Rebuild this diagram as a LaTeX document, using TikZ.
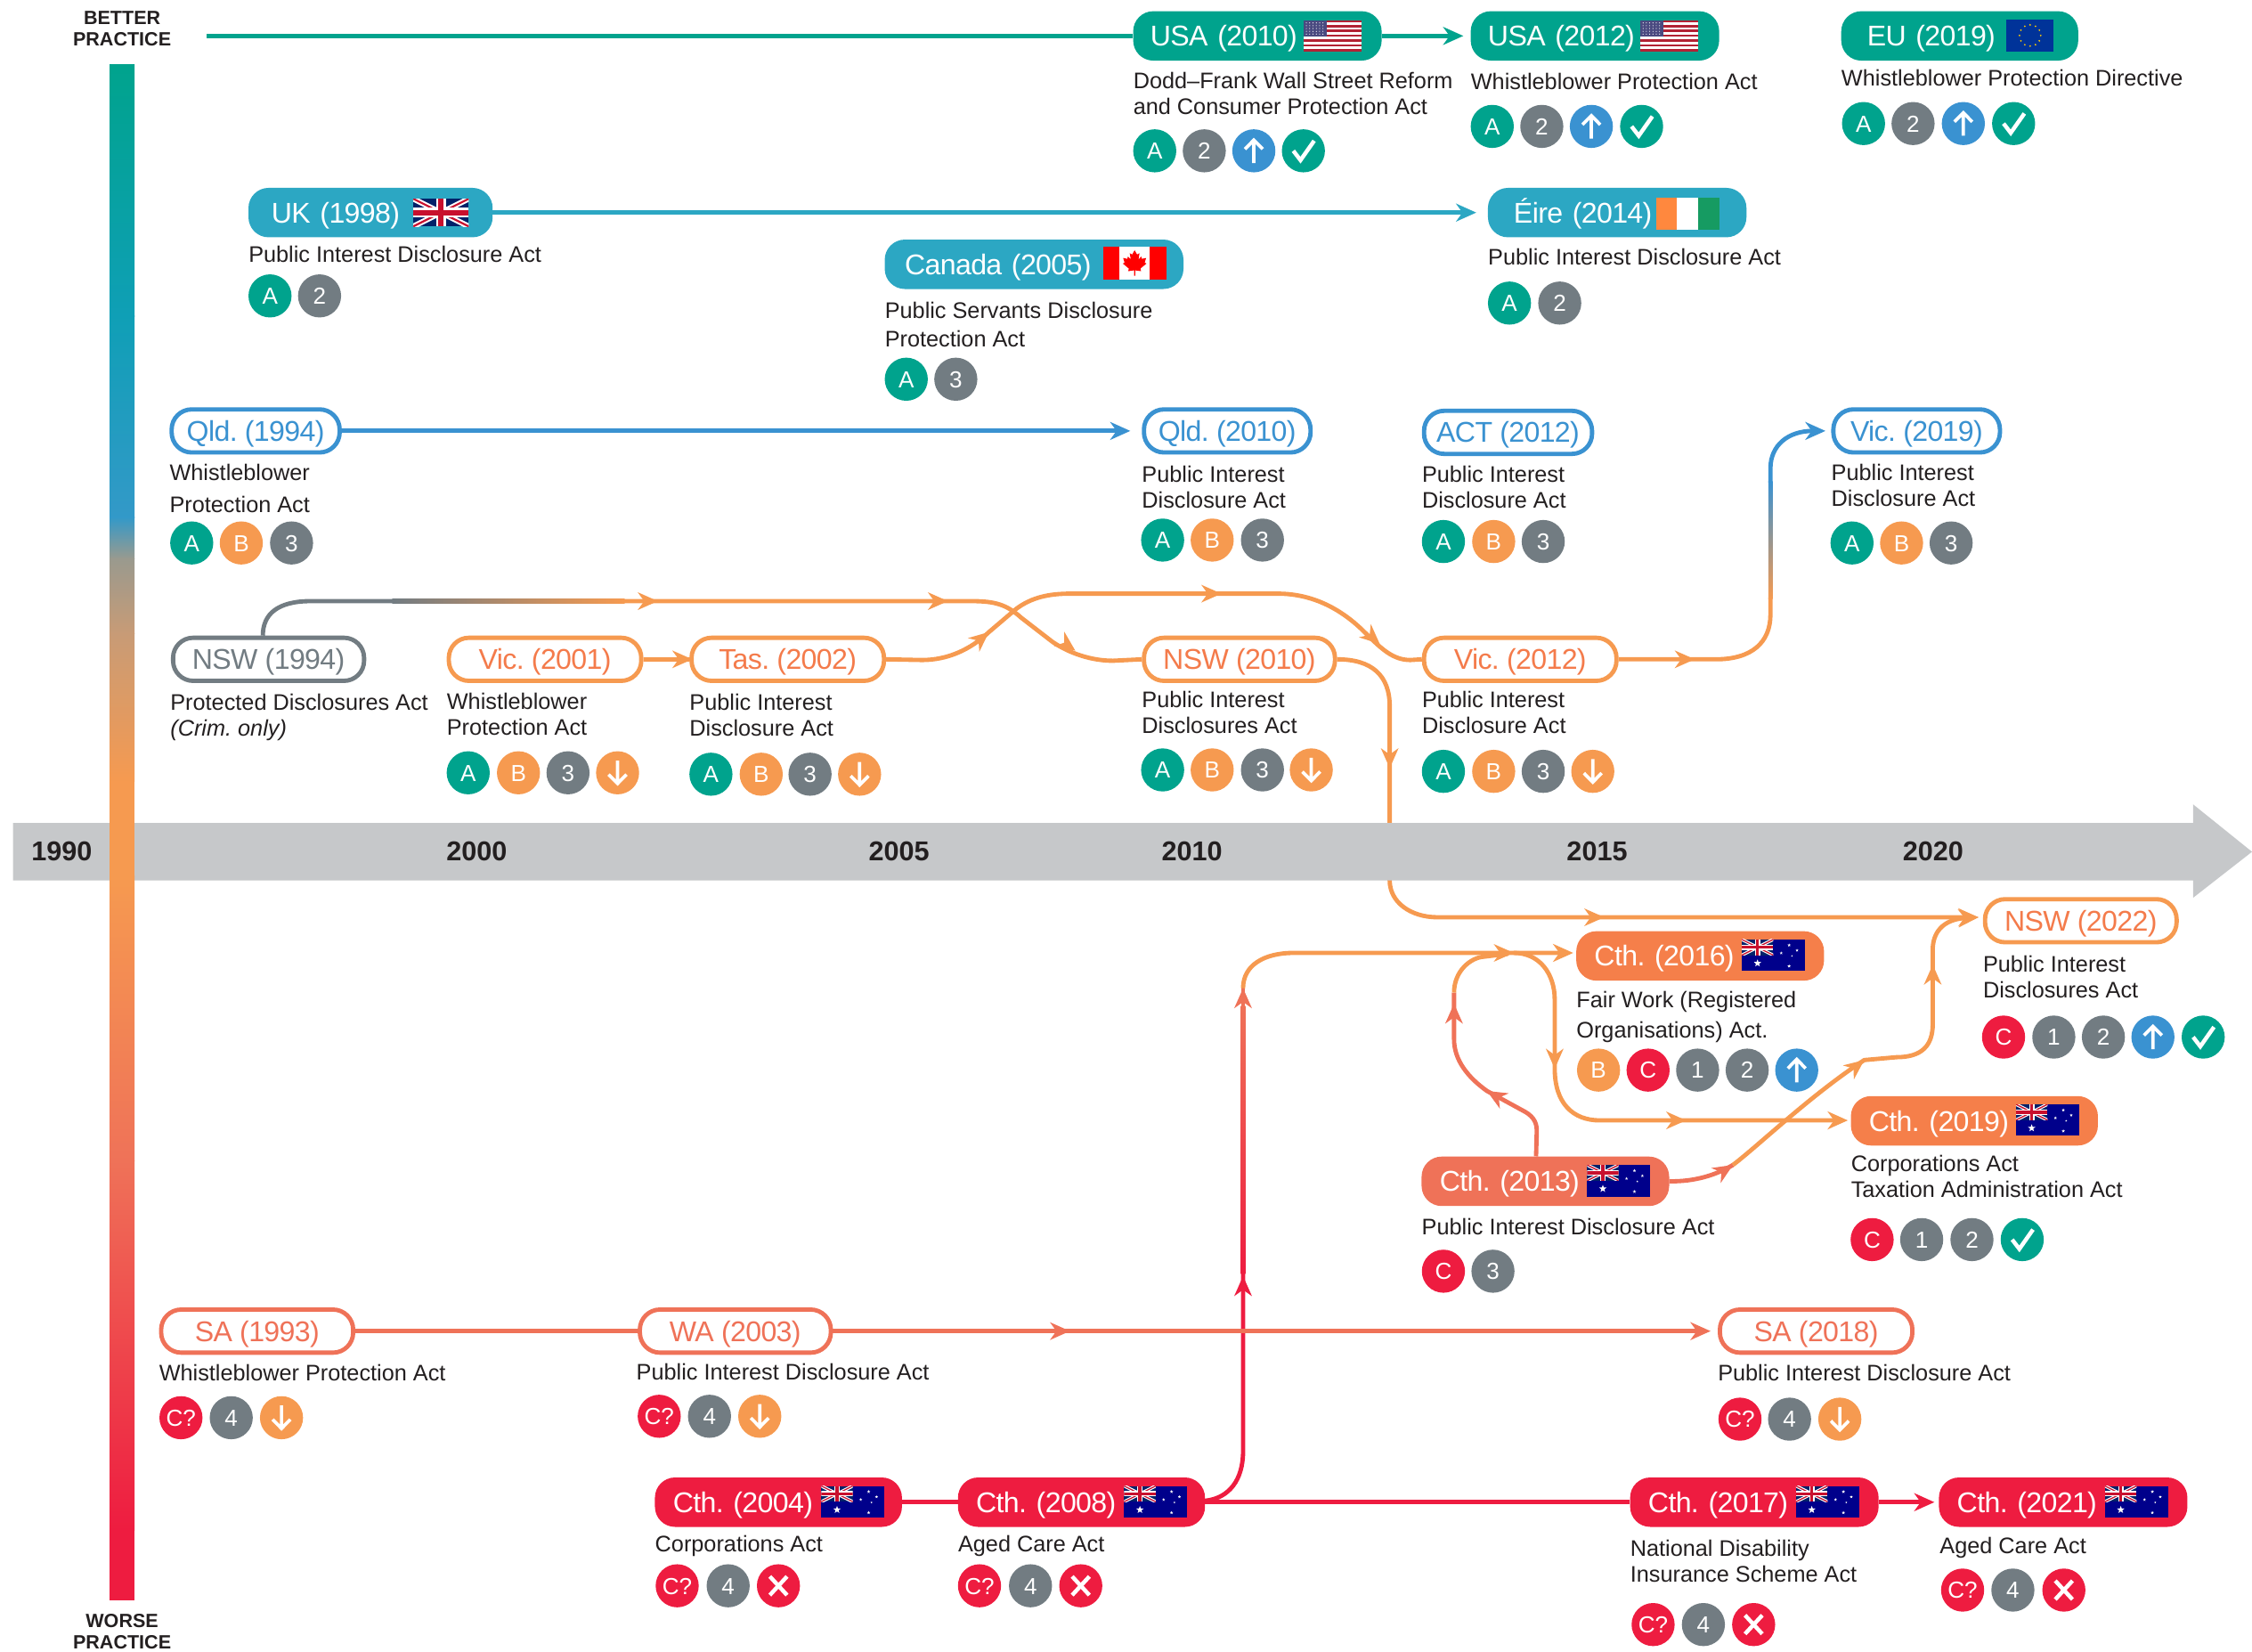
\documentclass[tikz,border=0pt]{standalone}
\usepackage{fontspec}
\setmainfont{Liberation Sans}
\newfontfamily\titlefam[LetterSpace=-2]{Liberation Sans}
\usetikzlibrary{arrows.meta,calc}
\definecolor{cteal}{HTML}{00A38D}
\definecolor{csky}{HTML}{2CA7C3}
\definecolor{cblue}{HTML}{3A92D1}
\definecolor{cgrey}{HTML}{727C82}
\definecolor{corange}{HTML}{F69A50}
\definecolor{corangeT}{HTML}{F47B4B}
\definecolor{ccth}{HTML}{F57F4A}
\definecolor{ccoral}{HTML}{EF7258}
\definecolor{cred}{HTML}{EE1C40}
\definecolor{ctext}{HTML}{231F20}
\definecolor{caxis}{HTML}{C6C8CA}
\definecolor{ukblue}{HTML}{012169}
\definecolor{ukred}{HTML}{C8102E}
\definecolor{aunavy}{HTML}{00008B}
\definecolor{usred}{HTML}{B22234}
\definecolor{usblue}{HTML}{4A4A80}
\definecolor{eublue}{HTML}{003399}
\definecolor{euyellow}{HTML}{FFCC00}
\definecolor{ieorange}{HTML}{FF883E}
\definecolor{iegreen}{HTML}{169B62}
\definecolor{barA}{HTML}{0F9FB6}
\definecolor{barB}{HTML}{3399C8}
\definecolor{barC}{HTML}{9A9A8E}
\definecolor{barD}{HTML}{C89B76}
\frenchspacing
\tikzset{
  titlefont/.style={font=\titlefam\fontsize{28.3}{30}\selectfont},
  pillbase/.style={titlefont,rounded corners=7mm,inner sep=0pt,text height=20.2pt,text depth=0pt},
  badge/.style={circle,inner sep=0pt,minimum size=15mm,text=white,font=\fontsize{23}{25}\selectfont,text height=16.5pt,text depth=0pt},
  icon/.style={white,line width=1.15mm},
  bA/.style={badge,fill=cteal,node contents={A}},
  bB/.style={badge,fill=corange,node contents={B}},
  bC/.style={badge,fill=cred,node contents={C}},
  bCq/.style={badge,fill=cred,node contents={C?}},
  bone/.style={badge,fill=cgrey,node contents={1}},
  btwo/.style={badge,fill=cgrey,node contents={2}},
  bthree/.style={badge,fill=cgrey,node contents={3}},
  bfour/.style={badge,fill=cgrey,node contents={4}},
  bup/.style={badge,fill=cblue,node contents={\phantom{A}}},
  bdown/.style={badge,fill=corange,node contents={\phantom{A}}},
  bok/.style={badge,fill=cteal,node contents={\phantom{A}}},
  bno/.style={badge,fill=cred,node contents={\phantom{A}}},
  desc/.style={anchor=base west,inner sep=0pt,text=ctext,font=\fontsize{22.3}{26}\selectfont},
  yearlab/.style={text=ctext,inner sep=0pt,font=\bfseries\fontsize{27}{30}\selectfont},
  endlab/.style={text=ctext,inner sep=0pt,align=center,font=\bfseries\fontsize{19}{20.6}\selectfont},
  conn/.style={line width=1.5mm,line join=round},
  tipped/.style={-{Stealth[length=7mm,width=6.2mm,inset=2.2mm]}},
}
\newcommand\icbup[1]{\draw[icon,shift={(#1.center)}] (0,8.5)--(0,-7) (-6.2,-1.2)--(0,-7.5)--(6.2,-1.2);}
\newcommand\icbdown[1]{\draw[icon,shift={(#1.center)}] (0,-8.5)--(0,7) (-6.2,1.2)--(0,7.5)--(6.2,1.2);}
\newcommand\icbok[1]{\draw[icon,line width=1.4mm,shift={(#1.center)}] (-7,0)--(-2,6.5)--(7.5,-7);}
\newcommand\icbno[1]{\draw[icon,line width=1.4mm,shift={(#1.center)}] (-6,-6.5)--(6,6.5) (-6,6.5)--(6,-6.5);}
% filled pill: name, left, right, centre y, colour, inset, text
\newcommand\pillf[7]{%
  \pgfmathsetmacro\pw{#3-#2}\pgfmathsetmacro\tw{(#3-#2-2*#6)*0.5}\pgfmathsetmacro\pc{(#2+#3)/2}%
  \node[pillbase,fill=#5,text=white,minimum width=\pw*0.5mm,minimum height=17.2mm,text width=\tw mm,align=left] (#1) at (\pc,#4) {#7};}
% outlined pill: name, left, right, centre y, stroke colour, text colour, text
\newcommand\pillo[7]{%
  \pgfmathsetmacro\pw{#3-#2-3}\pgfmathsetmacro\pc{(#2+#3)/2}%
  \node[pillbase,draw=#5,line width=1.5mm,fill=white,text=#6,minimum width=\pw*0.5mm,minimum height=15mm] (#1) at (\pc,#4) {#7};}
\newcommand\dsc[4]{\pgfmathsetmacro\by{#3+5.6}\node[desc] (#1) at (#2,\by) {#4};}
\newcommand\badgerow[3]{\foreach \x/\t [count=\i] in {#3} {\node (#1-\i) at (\x,#2) [\t]; \csname ic\t\endcsname{#1-\i}}}
\newcommand\icbA[1]{}\newcommand\icbB[1]{}\newcommand\icbC[1]{}\newcommand\icbCq[1]{}
\newcommand\icbone[1]{}\newcommand\icbtwo[1]{}\newcommand\icbthree[1]{}\newcommand\icbfour[1]{}
\newcommand\arrh[4]{\fill[#4,shift={(#1,#2)},rotate=#3] (0,0) -- (-14,6.2) -- (-9.5,0) -- (-14,-6.2) -- cycle;}
\newcommand\sstar[3]{\fill[white,shift={(#1,#2)}] (-90:#3)--(-54:{0.42*#3})--(-18:#3)--(18:{0.42*#3})--(54:#3)--(90:{0.42*#3})--(126:#3)--(162:{0.42*#3})--(198:#3)--(234:{0.42*#3})--cycle;}
\newcommand\ujack[2]{%
  \fill[ukblue] (0,0) rectangle (#1,#2);
  \begin{scope}
  \clip (0,0) rectangle (#1,#2);
  \draw[white,line width={0.20*#2*0.5mm}] (0,0)--(#1,#2) (0,#2)--(#1,0);
  \draw[ukred,line width={0.07*#2*0.5mm}] (0,0)--(#1,#2) (0,#2)--(#1,0);
  \draw[white,line width={0.34*#2*0.5mm}] ({#1/2},0)--({#1/2},#2) (0,{#2/2})--(#1,{#2/2});
  \draw[ukred,line width={0.20*#2*0.5mm}] ({#1/2},0)--({#1/2},#2) (0,{#2/2})--(#1,{#2/2});
  \end{scope}}
\newcommand\flagUK[2]{\begin{scope}[shift={(#1,#2)}]\ujack{38.5}{19.2}\end{scope}}
\newcommand\flagAU[2]{\begin{scope}[shift={(#1,#2)}]
  \fill[aunavy] (0,0) rectangle (44,22);
  \ujack{22}{11}
  \sstar{11}{16.6}{2.7}
  \sstar{33}{4}{1.2}\sstar{33}{18.6}{1.2}\sstar{27.5}{9.5}{1.1}\sstar{38.5}{7.6}{1.1}\sstar{35}{11.5}{.7}
\end{scope}}
\newcommand\flagUS[2]{\begin{scope}[shift={(#1,#2)}]
  \fill[white] (0,0) rectangle (40.4,21.7);
  \foreach \s in {0,2,...,12} {\fill[usred] (0,{\s*21.7/13}) rectangle (40.4,{(\s+1)*21.7/13});}
  \fill[usblue] (0,0) rectangle (16.2,11.7);
  \foreach \u in {1,...,6} {\foreach \v in {1,...,5} {\fill[white] ({\u*2.3-0.3},{\v*1.95}) circle (.38);}}
\end{scope}}
\newcommand\flagEU[2]{\begin{scope}[shift={(#1,#2)}]
  \fill[eublue] (0,0) rectangle (33,22.2);
  \foreach \a in {0,30,...,330} {\fill[euyellow] ($(16.5,11.1)+(\a:7.4)$) circle (.65);}
\end{scope}}
\newcommand\flagIE[2]{\begin{scope}[shift={(#1,#2)}]
  \fill[ieorange] (0,0) rectangle (14.7,22.4);
  \fill[white] (14.7,0) rectangle (29.3,22.4);
  \fill[iegreen] (29.3,0) rectangle (44,22.4);
\end{scope}}
\newcommand\flagCA[2]{\begin{scope}[shift={(#1,#2)}]
  \fill[white] (0,0) rectangle (44,22.7);
  \fill[red] (0,0) rectangle (11.4,22.7);
  \fill[red] (32.6,0) rectangle (44,22.7);
  \fill[red] (22,2.2)--(23.7,5.2)--(25.4,4.3)--(24.7,8.6)--(26.6,6.6)--(27.1,8.2)--(30,7.6)--(29,10.8)--(30.2,11.5)--(26,15)--(26.5,16.8)--(22.4,16.2)--(22.4,20)--(21.6,20)--(21.6,16.2)--(17.5,16.8)--(18,15)--(13.8,11.5)--(15,10.8)--(14,7.6)--(16.9,8.2)--(17.4,6.6)--(19.3,8.6)--(18.6,4.3)--(20.3,5.2)--cycle;
\end{scope}}
\begin{document}
\begin{tikzpicture}[x=0.5mm,y=-0.5mm]
\useasboundingbox (0,0) rectangle (1568,1150.1);
% ---- pills
\pillf{usaA}{789}{962}{25}{cteal}{12}{USA (2010)}
\pillf{usaB}{1024}{1197}{25}{cteal}{12}{USA (2012)}
\pillf{eu}{1282}{1447}{25}{cteal}{18}{EU (2019)}
\pillf{ukA}{173}{343}{148}{csky}{16}{UK (1998)}
\pillf{eire}{1036}{1216}{148}{csky}{18}{Éire (2014)}
\pillf{canada}{616}{824}{184}{csky}{14}{Canada (2005)}
\pillo{qldA}{118}{238}{300}{cblue}{cblue}{Qld. (1994)}
\pillo{qldB}{795}{914}{300}{cblue}{cblue}{Qld. (2010)}
\pillo{act}{990}{1110}{301}{cblue}{cblue}{ACT (2012)}
\pillo{vicD}{1275}{1394}{300}{cblue}{cblue}{Vic. (2019)}
\pillo{nswA}{119}{255}{459}{cgrey}{cgrey}{NSW (1994)}
\pillo{vicA}{311}{448}{459}{corange}{corangeT}{Vic. (2001)}
\pillo{tas}{480}{617}{459}{corange}{corangeT}{Tas. (2002)}
\pillo{nswB}{795}{931}{459}{corange}{corangeT}{NSW (2010)}
\pillo{vicB}{990}{1127}{459}{corange}{corangeT}{Vic. (2012)}
\pillo{nswC}{1380.6}{1517}{641}{corange}{corangeT}{NSW (2022)}
\pillf{cthB}{1097.5}{1270}{665.5}{ccth}{12.6}{Cth. (2016)}
\pillf{cthC}{1288.7}{1460.7}{780.3}{ccth}{12.6}{Cth. (2019)}
\pillf{cthA}{989.8}{1162.2}{822.4}{ccoral}{12.6}{Cth. (2013)}
\pillo{saA}{110.7}{247.4}{926.7}{ccoral}{ccoral}{SA (1993)}
\pillo{wa}{444}{580}{926.7}{ccoral}{ccoral}{WA (2003)}
\pillo{saB}{1196}{1333}{926.7}{ccoral}{ccoral}{SA (2018)}
\pillf{cthD}{456}{628}{1045.8}{cred}{12.6}{Cth. (2004)}
\pillf{cthE}{667}{839}{1045.8}{cred}{12.6}{Cth. (2008)}
\pillf{cthF}{1135}{1308}{1045.8}{cred}{12.6}{Cth. (2017)}
\pillf{cthG}{1350}{1523}{1045.8}{cred}{12.6}{Cth. (2021)}
% ---- flags
\flagUS{907.6}{14}\flagUS{1142}{14}\flagEU{1397}{13.6}
\flagUK{287.8}{138.4}\flagIE{1153}{137.6}\flagCA{768}{172}
\flagAU{1212.7}{654}\flagAU{1403.6}{768.8}\flagAU{1105}{811}
\flagAU{571.8}{1034.5}\flagAU{782.7}{1034.5}\flagAU{1250.5}{1034.5}\flagAU{1465.6}{1034.5}
% ---- connectors
\coordinate (topstart) at (144,25);
\draw[conn,cteal] (topstart) -- (usaA.west);
\draw[conn,cteal,tipped,shorten >=2.5mm] (usaA.east) -- (usaB.west);
\draw[conn,csky,tipped,shorten >=4mm] (ukA.east) -- (eire.west);
\draw[conn,cblue,tipped,shorten >=4mm] (qldA.east) -- (qldB.west);
% NSW 1994 line
\coordinate (nswfadeA) at (273,418.5);
\coordinate (nswfadeB) at (435,418.5);
\draw[conn,cgrey] ($(nswA.north)+(-4,0)$) .. controls (183,427) and (194,418.5) .. (216.4,418.5) -- (nswfadeA);
\shade[left color=cgrey,right color=corange] (273,417) rectangle (435,420);
\draw[conn,corange] (nswfadeB) -- (676.5,418.5) .. controls (693,418.5) and (701,421) .. (711,430) -- (733,447) .. controls (745,455) and (760,460) .. (775,460) -- (nswB.west);
\arrh{458}{418.5}{0}{corange}\arrh{660}{418.5}{0}{corange}\arrh{748.7}{453}{-36}{corange}
% Vic 2001 to Tas
\draw[conn,corange] (vicA.east) -- (tas.west);
\arrh{482}{459}{0}{corange}
% Tas onward
\draw[conn,corange] (tas.east) -- (642,459.5) .. controls (660,459.5) and (676,452) .. (688.6,440) -- (707.4,424) .. controls (718,416) and (730,413.3) .. (745,413.3) -- (889.7,413.3) .. controls (915,413.3) and (935,425) .. (950,440) .. controls (962,452) and (970,459.5) .. (982,459.5) -- (vicB.west);
\arrh{688.6}{440}{40}{corange}\arrh{850.4}{413.3}{0}{corange}\arrh{960.7}{448.4}{-42}{corange}
% NSW 2010 through the axis to NSW 2022
\draw[conn,corange,tipped] (nswB.east) .. controls (955,459) and (967.6,470) .. (967.6,491.8) -- (967.6,613) .. controls (967.6,628) and (982,638.6) .. (1001,638.6) -- ($(nswC.west)+(-3,-2.4)$);
\arrh{967.6}{534.8}{-90}{corange}\arrh{1117}{638.6}{0}{corange}
% Vic 2012 to Vic 2019
\draw[conn,corange] (vicB.east) -- (1194.6,459) .. controls (1220,459) and (1232.7,447) .. (1232.7,427.8) -- (1232.7,416);
\arrh{1180}{459}{0}{corange}
\shade[top color=cblue,bottom color=corange] (1231.2,335) rectangle (1234.2,417);
\draw[conn,cblue,tipped] (1232.7,336) -- (1232.7,326) .. controls (1232.7,310) and (1245,300) .. ($(vicD.west)+(-4,0)$);
% Cth red line
\draw[conn,cred] (cthD.east) -- (cthE.west);
\draw[conn,cred] (cthE.east) -- (cthF.west);
\draw[conn,cred,tipped,shorten >=1.5mm] (cthF.east) -- (cthG.west);
\draw[conn,cred] ($(cthE.east)+(0,-1)$) .. controls (856,1043) and (865.5,1030) .. (865.5,1010.5) -- (865.5,886);
\arrh{865.5}{888.4}{90}{cred}
\shade[top color=ccoral,bottom color=cred] (864,700) rectangle (867,887);
\draw[line width=1.5mm,ccoral] (865.5,702) -- (865.5,684);
\arrh{865.5}{688}{90}{ccoral}
\draw[conn,corange] (865.5,688) .. controls (865.5,672) and (880,663.4) .. (900.8,663.4) -- (1054,663.4);
\draw[conn,corange,tipped] (1054,663.4) -- ($(cthB.west)+(-2,-2.1)$);
\arrh{1054}{663.4}{0}{corange}
\coordinate (loopstart) at (1054,663.4);
\draw[conn,corange,tipped] (loopstart) .. controls (1072,663.4) and (1082.5,678) .. (1082.5,696) -- (1082.5,744) .. controls (1082.5,768) and (1095,780) .. (1114,780) -- ($(cthC.west)+(-2,-0.3)$);
\arrh{1082.5}{744}{-90}{corange}\arrh{1174}{780}{0}{corange}
% Cth 2013 upward
\draw[conn,ccoral] ($(cthA.north)+(-6.5,0)$) -- (1070,787) .. controls (1070,780) and (1066,776) .. (1060,773) -- (1035.3,759.5) .. controls (1022,750) and (1012.4,738) .. (1012.4,723.5) -- (1012.4,691);
\arrh{1035.3}{759.5}{150}{ccoral}\arrh{1012.4}{698.7}{90}{ccoral}
\draw[conn,corange] (1012.4,691) .. controls (1012.4,676) and (1024,666.5) .. (1033.5,666) -- (1050,664);
% Cth 2013 to NSW 2022
\draw[conn,ccoral] (cthA.east) .. controls (1180,822.7) and (1195,818) .. (1206.6,811);
\draw[conn,corange,tipped] (1206.6,811) .. controls (1225,797) and (1260,763) .. (1298,738) -- (1320.6,736) .. controls (1338,736) and (1345.7,728) .. (1345.7,713) -- (1345.7,661) .. controls (1345.7,650) and (1352,640) .. ($(nswC.west)+(-3,-2.4)$);
\arrh{1206.6}{811}{32}{ccoral}\arrh{1298}{738}{38}{corange}\arrh{1345.7}{671.6}{90}{corange}
% SA line
\draw[conn,ccoral] (saA.east) -- (wa.west);
\draw[conn,ccoral,tipped,shorten >=2.5mm] (wa.east) -- (saB.west);
\arrh{745}{926.7}{0}{ccoral}
% ---- axis (hides the line that passes behind it)
\fill[caxis] (9,573) -- (1527,573) -- (1527,560) -- (1568,593) -- (1527,625) -- (1527,613) -- (9,613) -- cycle;
\foreach \nm/\xx in {1990/43,2000/332,2005/626,2010/830,2015/1112,2020/1346} {\node[yearlab] (y\nm) at (\xx,593) {\nm};}
% ---- practice bar
\shade[top color=cteal,bottom color=barA] (76.3,45) rectangle (93.7,220.3);
\shade[top color=barA,bottom color=barB] (76.3,220) rectangle (93.7,360.3);
\shade[top color=barB,bottom color=barC] (76.3,360) rectangle (93.7,389.3);
\shade[top color=barC,bottom color=barD] (76.3,389) rectangle (93.7,441.3);
\shade[top color=barD,bottom color=corange] (76.3,441) rectangle (93.7,544.3);
\fill[corange] (76.3,544) rectangle (93.7,610.3);
\shade[top color=corange,bottom color=ccoral] (76.3,610) rectangle (93.7,808.3);
\shade[top color=ccoral,bottom color=cred] (76.3,808) rectangle (93.7,1065.3);
\fill[cred] (76.3,1065) rectangle (93.7,1114);
\node[endlab] (better) at (85,20) {BETTER\\PRACTICE};
\node[endlab] (worse) at (85,1136) {WORSE\\PRACTICE};
% ---- descriptions
\dsc{dA}{789}{56}{Dodd–Frank Wall Street Reform}\dsc{dAb}{789}{74}{and Consumer Protection Act}
\dsc{dB}{1024}{57}{Whistleblower Protection Act}
\dsc{dC}{1282}{54}{Whistleblower Protection Directive}
\dsc{dD}{173}{177}{Public Interest Disclosure Act}
\dsc{dE}{1036}{179}{Public Interest Disclosure Act}
\dsc{dF}{616}{216}{Public Servants Disclosure}\dsc{dFb}{616}{236}{Protection Act}
\dsc{dG}{118}{329}{Whistleblower}\dsc{dGb}{118}{351}{Protection Act}
\dsc{dH}{795}{330}{Public Interest}\dsc{dHb}{795}{348}{Disclosure Act}
\dsc{dI}{990}{330}{Public Interest}\dsc{dIb}{990}{348}{Disclosure Act}
\dsc{dJ}{1275}{329}{Public Interest}\dsc{dJb}{1275}{347}{Disclosure Act}
\dsc{dK}{118.5}{489}{Protected Disclosures Act}\dsc{dKb}{118.5}{507}{\itshape (Crim. only)}
\dsc{dL}{311}{488}{Whistleblower}\dsc{dLb}{311}{506}{Protection Act}
\dsc{dM}{480}{489}{Public Interest}\dsc{dMb}{480}{507}{Disclosure Act}
\dsc{dN}{795}{487}{Public Interest}\dsc{dNb}{795}{505}{Disclosures Act}
\dsc{dO}{990}{487}{Public Interest}\dsc{dOb}{990}{505}{Disclosure Act}
\dsc{dP}{1380.6}{671}{Public Interest}\dsc{dPb}{1380.6}{689}{Disclosures Act}
\dsc{dQ}{1097.5}{696}{Fair Work (Registered}\dsc{dQb}{1097.5}{717}{Organisations) Act.}
\dsc{dR}{1288.7}{810}{Corporations Act}\dsc{dRb}{1288.7}{828}{Taxation Administration Act}
\dsc{dS}{989.8}{854}{Public Interest Disclosure Act}
\dsc{dT}{110.7}{956}{Whistleblower Protection Act}
\dsc{dU}{443}{955}{Public Interest Disclosure Act}
\dsc{dV}{1196}{956}{Public Interest Disclosure Act}
\dsc{dW}{456}{1075}{Corporations Act}
\dsc{dX}{667}{1075}{Aged Care Act}
\dsc{dY}{1135}{1078}{National Disability}\dsc{dYb}{1135}{1096}{Insurance Scheme Act}
\dsc{dZ}{1350.5}{1076}{Aged Care Act}
% ---- badges
\badgerow{rA}{105}{804/bA,838.5/btwo,873/bup,907.5/bok}
\badgerow{rB}{88}{1039/bA,1073.5/btwo,1108/bup,1143/bok}
\badgerow{rC}{86}{1297.5/bA,1332/btwo,1367/bup,1402/bok}
\badgerow{rD}{206}{188/bA,222.5/btwo}
\badgerow{rE}{211}{1051/bA,1086/btwo}
\badgerow{rF}{264}{631/bA,665.5/bthree}
\badgerow{rG}{378}{133.5/bA,168/bB,203/bthree}
\badgerow{rH}{376}{809.5/bA,844/bB,879/bthree}
\badgerow{rI}{377}{1005/bA,1040/bB,1074.5/bthree}
\badgerow{rJ}{378}{1289.5/bA,1324/bB,1358.5/bthree}
\badgerow{rL}{538}{326/bA,361/bB,395.5/bthree,430/bdown}
\badgerow{rM}{539}{495/bA,530/bB,564/bthree,598.5/bdown}
\badgerow{rN}{536}{809.5/bA,844/bB,879/bthree,913/bdown}
\badgerow{rO}{537}{1005/bA,1040/bB,1074.5/bthree,1109/bdown}
\badgerow{rP}{722}{1395/bC,1430/bone,1464.5/btwo,1499/bup,1534/bok}
\badgerow{rQ}{745}{1113/bB,1147.5/bC,1182/bone,1216.5/btwo,1251/bup}
\badgerow{rR}{863}{1303.5/bC,1338/bone,1373/btwo,1408/bok}
\badgerow{rS}{885}{1005/bC,1039.5/bthree}
\badgerow{rT}{987}{126/bCq,161/bfour,196/bdown}
\badgerow{rU}{986}{459/bCq,494/bfour,529/bdown}
\badgerow{rV}{988}{1211.5/bCq,1246/bfour,1281/bdown}
\badgerow{rW}{1104}{471.5/bCq,507/bfour,542/bno}
\badgerow{rX}{1104}{682/bCq,717.5/bfour,752.5/bno}
\badgerow{rY}{1131}{1151/bCq,1186/bfour,1221/bno}
\badgerow{rZ}{1107}{1366.5/bCq,1401.5/bfour,1437/bno}
\end{tikzpicture}
\end{document}
